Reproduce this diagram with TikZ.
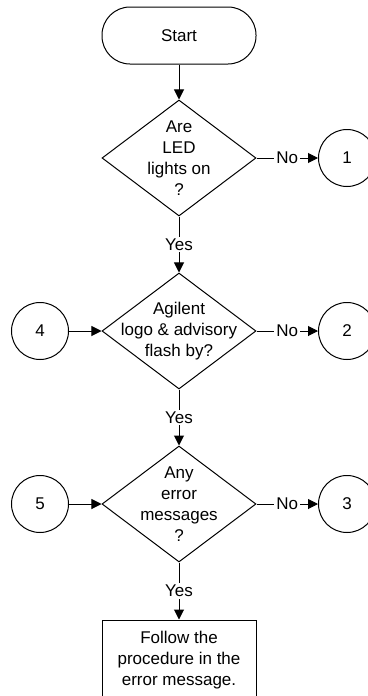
\documentclass[tikz,border=0pt]{standalone}
\usepackage{fontspec}
\setmainfont{Liberation Sans}
\usetikzlibrary{shapes.geometric,arrows.meta}

\begin{document}
\begin{tikzpicture}[x=0.5pt, y=-0.5pt, line width=0.5pt,
  font=\fontsize{8.5}{10.5}\selectfont,
  terminal/.style={draw, rectangle, rounded corners=14pt, minimum width=77pt, minimum height=28.5pt},
  decision/.style={draw, diamond, inner sep=0pt, minimum width=77pt, minimum height=58pt},
  connector/.style={draw, circle, inner sep=0pt, minimum size=28.5pt},
  process/.style={draw, rectangle, align=center, minimum width=77pt, minimum height=40pt},
  answer/.style={fill=white, inner sep=1pt},
  flow/.style={-{Triangle[length=5pt,width=5pt]}}]
  \useasboundingbox (0,0) rectangle (368,696);
  \node[terminal] (start) at (179,35.5) {Start};
  \node[decision, label={[align=center]center:Are\\LED\\lights on\\?}] (q1) at (179,158) {};
  \node[decision, label={[align=center]center:Agilent\\logo \& advisory\\flash by?}] (q2) at (179,331) {};
  \node[decision, label={[align=center]center:Any\\error\\messages\\?}] (q3) at (179,504) {};
  \node[process] (follow) at (179,660) {Follow the\\procedure in the\\error message.};
  \node[connector] (c1) at (347,158) {1};
  \node[connector] (c2) at (347,331) {2};
  \node[connector] (c3) at (347,504) {3};
  \node[connector] (c4) at (40,331) {4};
  \node[connector] (c5) at (40,504) {5};
  \draw[flow] (start) -- (q1);
  \draw[flow] (q1) -- node[answer] {Yes} (q2);
  \draw[flow] (q2) -- node[answer] {Yes} (q3);
  \draw[flow] (q3) -- node[answer] {Yes} (follow);
  \draw[flow] (q1) -- node[answer] {No} (c1);
  \draw[flow] (q2) -- node[answer] {No} (c2);
  \draw[flow] (q3) -- node[answer] {No} (c3);
  \draw[flow] (c4) -- (q2);
  \draw[flow] (c5) -- (q3);
\end{tikzpicture}
\end{document}
